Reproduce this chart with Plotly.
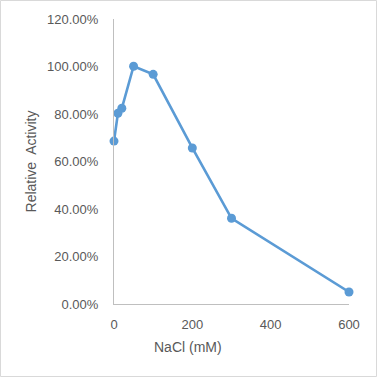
import plotly.graph_objects as go

nacl_mM = [0, 10, 20, 50, 100, 200, 300, 600]
relative_activity = [0.686, 0.803, 0.824, 1.001, 0.967, 0.657, 0.361, 0.0505]
y_tick_vals = [0, 0.2, 0.4, 0.6, 0.8, 1.0, 1.2]
y_tick_text = ["0.00%", "20.00%", "40.00%", "60.00%", "80.00%", "100.00%", "120.00%"]
x_tick_vals = [0, 200, 400, 600]

W, H = 380, 380
L, R, T, B = 114, 31, 19, 76
pw, ph = W - L - R, H - T - B

def px(x):
    return (x - L) / pw

def py(y):
    return (H - B - y) / ph

fig = go.Figure()
fig.add_trace(go.Scatter(
    x=nacl_mM, y=relative_activity, mode="lines+markers",
    line=dict(color="#5B9BD5", width=2.6),
    marker=dict(color="#5B9BD5", size=9),
    cliponaxis=False, showlegend=False,
))

font = dict(family="Liberation Sans, Arial, sans-serif", size=13, color="#595959")
fig.update_layout(
    width=W, height=H,
    margin=dict(l=L, r=R, t=T, b=B),
    paper_bgcolor="white", plot_bgcolor="white",
    font=font,
    xaxis=dict(range=[0, 600], tickvals=x_tick_vals, showgrid=False, zeroline=False,
               showline=True, linecolor="#BFBFBF", linewidth=1, ticks="",
               ticklabelstandoff=8, tickfont=font, fixedrange=True),
    yaxis=dict(range=[0, 1.2], tickvals=y_tick_vals, ticktext=y_tick_text,
               showgrid=False, zeroline=False, showline=True, linecolor="#BFBFBF",
               linewidth=1, ticks="", ticklabelstandoff=12, tickfont=font,
               title=dict(text="Relative  Activity", font=dict(size=14, color="#595959",
                          family="Liberation Sans, Arial, sans-serif"), standoff=7),
               fixedrange=True),
)
fig.add_annotation(text="NaCl (mM)", x=px(188), y=py(347), xref="paper", yref="paper",
                   showarrow=False, xanchor="center", yanchor="middle",
                   font=dict(size=14, color="#595959", family="Liberation Sans, Arial, sans-serif"))
fig.add_shape(type="rect", xref="paper", yref="paper",
              x0=px(0.5), x1=px(376.5), y0=py(376.5), y1=py(0.5),
              line=dict(color="#D9D9D9", width=1), layer="below")

fig.write_html("out.html", config={"displayModeBar": False},
               post_script="document.body.style.margin='0';document.body.style.overflow='hidden';")
